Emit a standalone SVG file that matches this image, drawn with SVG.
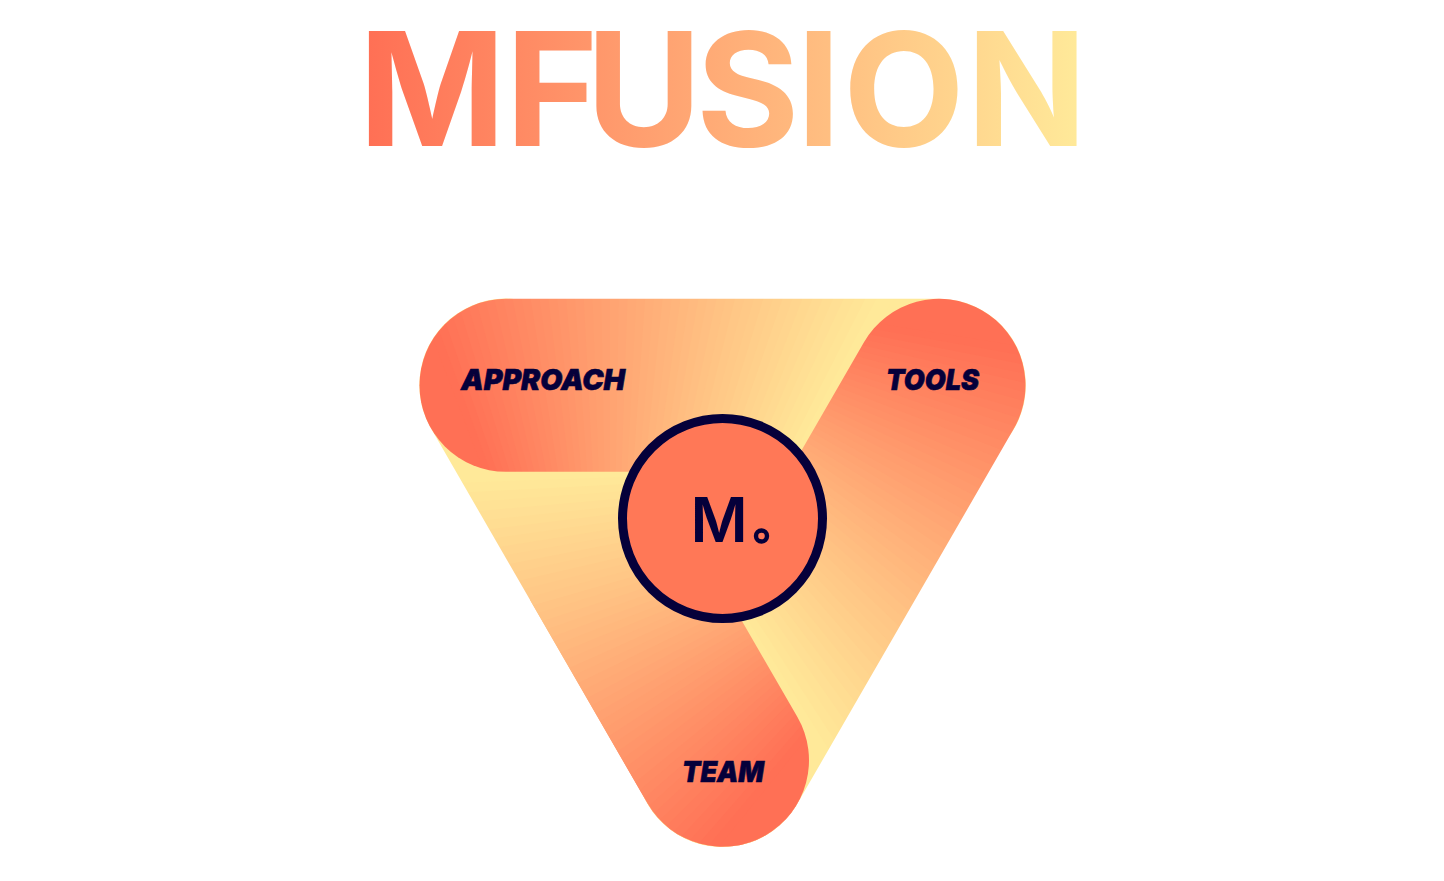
<svg xmlns="http://www.w3.org/2000/svg" xmlns:xlink="http://www.w3.org/1999/xlink" width="1444" height="881" viewBox="0 0 1444 881">
<style>
.lab{font-family:Inter,"Liberation Sans",sans-serif;font-weight:900;font-style:italic;fill:#05003a;stroke:#05003a;stroke-width:.6}
.title{font-family:Inter,"Liberation Sans",sans-serif;font-weight:700;font-size:158px;font-optical-sizing:none}
.logo{font-family:Inter,"Liberation Sans",sans-serif;font-weight:600;font-size:62px;fill:#05003a;font-optical-sizing:none}
</style>
<defs>
<linearGradient id="tg" gradientUnits="userSpaceOnUse" x1="369" y1="0" x2="1076" y2="0"><stop offset="0" stop-color="#ff7055"/><stop offset="1" stop-color="#ffe999"/></linearGradient>
<polygon id="w" points="0,0 0,-1200 31,-1200"/>
<mask id="pill" maskUnits="userSpaceOnUse" x="400" y="280" width="650" height="210"><rect x="419.5" y="298.8" width="606.3" height="173" rx="86.5" ry="86.5" fill="#fff"/></mask>
<clipPath id="low"><rect x="400" y="600" width="650" height="270"/></clipPath>
<g id="band"><g mask="url(#pill)"><g transform="translate(610 800)">
<rect x="-1300" y="-1300" width="2600" height="2600" fill="#ffe999"/>
<polygon points="0,0 -390,-1134 -1300,-1134 -1300,1300 0,1300" fill="#ff7055"/>
<use href="#w" transform="rotate(-21)" fill="#ff7055"/><use href="#w" transform="rotate(-20)" fill="#ff7256"/><use href="#w" transform="rotate(-19)" fill="#ff7558"/><use href="#w" transform="rotate(-18)" fill="#ff7759"/><use href="#w" transform="rotate(-17)" fill="#ff7a5b"/>
<use href="#w" transform="rotate(-16)" fill="#ff7c5c"/><use href="#w" transform="rotate(-15)" fill="#ff7f5d"/><use href="#w" transform="rotate(-14)" fill="#ff815f"/><use href="#w" transform="rotate(-13)" fill="#ff8460"/><use href="#w" transform="rotate(-12)" fill="#ff8662"/>
<use href="#w" transform="rotate(-11)" fill="#ff8963"/><use href="#w" transform="rotate(-10)" fill="#ff8b64"/><use href="#w" transform="rotate(-9)" fill="#ff8e66"/><use href="#w" transform="rotate(-8)" fill="#ff9067"/><use href="#w" transform="rotate(-7)" fill="#ff9368"/>
<use href="#w" transform="rotate(-6)" fill="#ff956a"/><use href="#w" transform="rotate(-5)" fill="#ff986b"/><use href="#w" transform="rotate(-4)" fill="#ff9a6d"/><use href="#w" transform="rotate(-3)" fill="#ff9d6e"/><use href="#w" transform="rotate(-2)" fill="#ff9f6f"/>
<use href="#w" transform="rotate(-1)" fill="#ffa171"/><use href="#w" transform="rotate(0)" fill="#ffa472"/><use href="#w" transform="rotate(1)" fill="#ffa674"/><use href="#w" transform="rotate(2)" fill="#ffa975"/><use href="#w" transform="rotate(3)" fill="#ffab76"/>
<use href="#w" transform="rotate(4)" fill="#ffae78"/><use href="#w" transform="rotate(5)" fill="#ffb079"/><use href="#w" transform="rotate(6)" fill="#ffb37b"/><use href="#w" transform="rotate(7)" fill="#ffb57c"/><use href="#w" transform="rotate(8)" fill="#ffb87d"/>
<use href="#w" transform="rotate(9)" fill="#ffba7f"/><use href="#w" transform="rotate(10)" fill="#ffbd80"/><use href="#w" transform="rotate(11)" fill="#ffbf82"/><use href="#w" transform="rotate(12)" fill="#ffc283"/><use href="#w" transform="rotate(13)" fill="#ffc484"/>
<use href="#w" transform="rotate(14)" fill="#ffc786"/><use href="#w" transform="rotate(15)" fill="#ffc987"/><use href="#w" transform="rotate(16)" fill="#ffcb88"/><use href="#w" transform="rotate(17)" fill="#ffce8a"/><use href="#w" transform="rotate(18)" fill="#ffd08b"/>
<use href="#w" transform="rotate(19)" fill="#ffd38d"/><use href="#w" transform="rotate(20)" fill="#ffd58e"/><use href="#w" transform="rotate(21)" fill="#ffd88f"/><use href="#w" transform="rotate(22)" fill="#ffda91"/><use href="#w" transform="rotate(23)" fill="#ffdd92"/>
<use href="#w" transform="rotate(24)" fill="#ffdf94"/><use href="#w" transform="rotate(25)" fill="#ffe295"/><use href="#w" transform="rotate(26)" fill="#ffe496"/><use href="#w" transform="rotate(27)" fill="#ffe798"/><use href="#w" transform="rotate(28)" fill="#ffe999"/>
</g></g></g>
</defs>
<rect width="1444" height="881" fill="#fff"/>
<text id="title" class="title" y="146" x="358.5 505.5 586 696 796.5 843 966.5" fill="url(#tg)">MFUSION</text>
<g id="team-base"><use href="#band" transform="rotate(240 722.5 510.3)"/></g>
<g id="approach"><use href="#band"/><text class="lab" x="461" y="390" font-size="29" textLength="164" lengthAdjust="spacingAndGlyphs">APPROACH</text></g>
<g id="tools"><use href="#band" transform="rotate(120 722.5 510.3)"/><text class="lab" x="886" y="390" font-size="29" textLength="93" lengthAdjust="spacingAndGlyphs">TOOLS</text></g>
<g id="team"><g clip-path="url(#low)"><use href="#band" transform="rotate(240 722.5 510.3)"/></g><text class="lab" x="682" y="782" font-size="29" textLength="82" lengthAdjust="spacingAndGlyphs">TEAM</text></g>
<g id="center"><circle cx="722.5" cy="518.5" r="100" fill="#ff7857" stroke="#05003a" stroke-width="9"/><text class="logo" x="690.5" y="542">M</text><circle cx="761.5" cy="536" r="5.5" fill="none" stroke="#05003a" stroke-width="4.4"/></g>
</svg>
